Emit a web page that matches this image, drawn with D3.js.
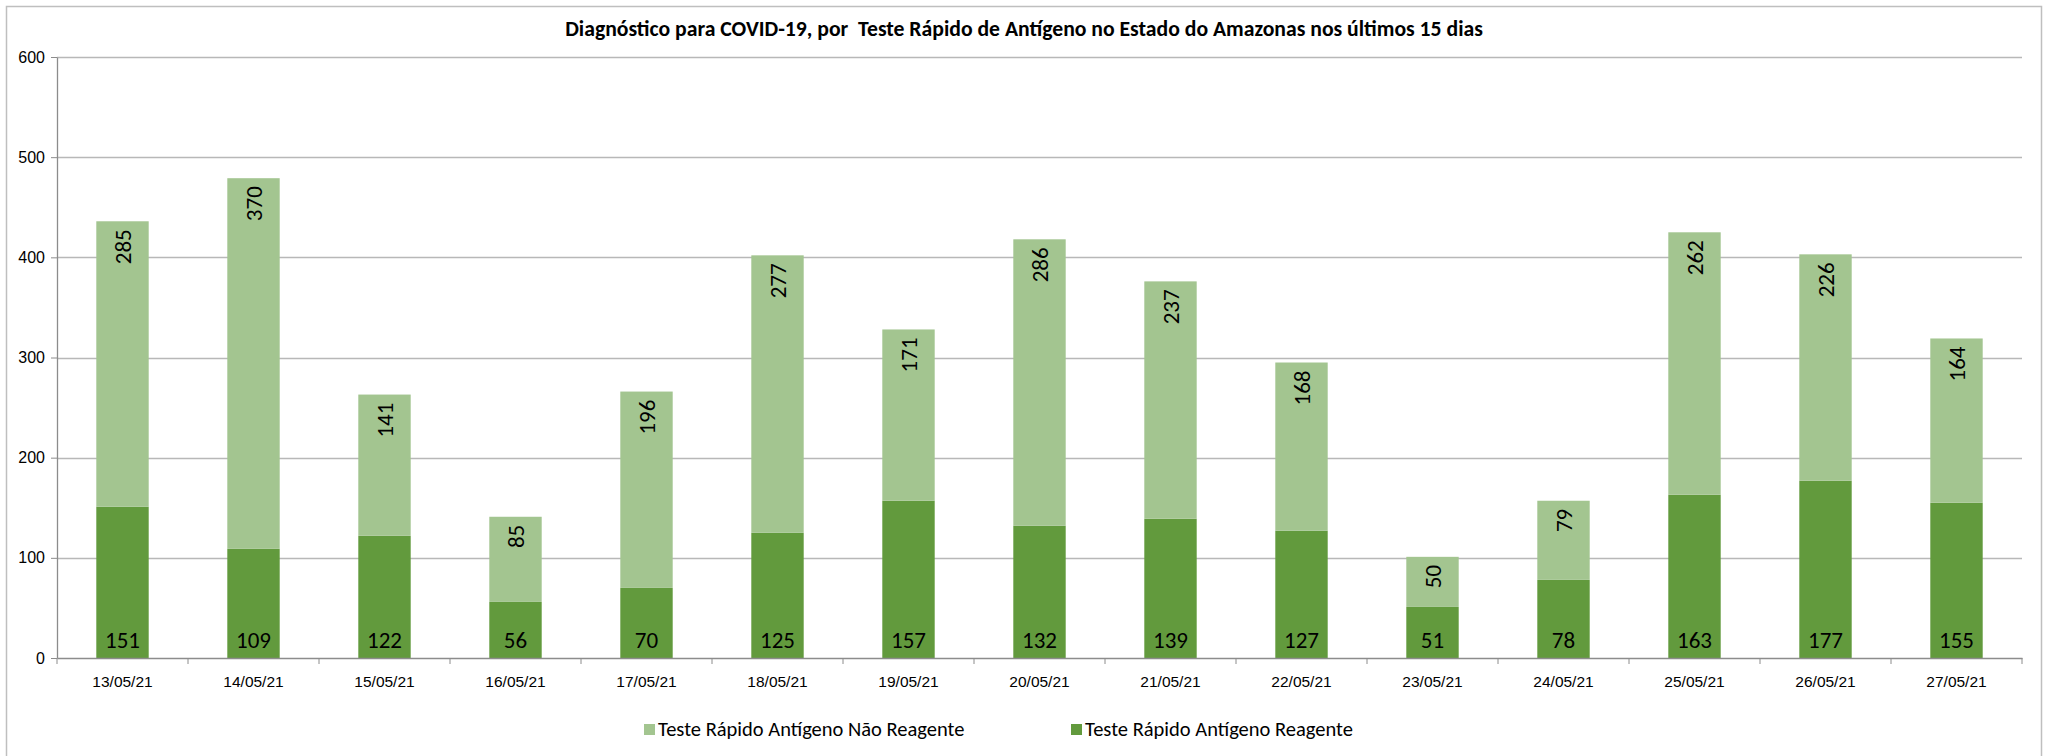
<!DOCTYPE html>
<html>
<head>
<meta charset="utf-8">
<script src="https://cdn.jsdelivr.net/npm/d3@7"></script>
<style>
  body { margin: 0; background: #fff; }
  svg { display: block; font-family: Carlito, Calibri, Lato, sans-serif; }
</style>
</head>
<body>
<div id="chart"></div>
<script>
// data
var dates = ["13/05/21","14/05/21","15/05/21","16/05/21","17/05/21","18/05/21","19/05/21","20/05/21",
             "21/05/21","22/05/21","23/05/21","24/05/21","25/05/21","26/05/21","27/05/21"]
var reagente = [151,109,122,56,70,125,157,132,139,127,51,78,163,177,155]
var naoReagente = [285,370,141,85,196,277,171,286,237,168,50,79,262,226,164]
var yTicks = [0,100,200,300,400,500,600]
var seriesNames = ["Teste Rápido Antígeno Não Reagente", "Teste Rápido Antígeno Reagente"]
var title = "Diagnóstico para COVID-19, por  Teste Rápido de Antígeno no Estado do Amazonas nos últimos 15 dias"

var w = 2048
var h = 756
var margin = {top: 57, right: 26, bottom: 98, left: 57}
var colorDark = "#629a3d"
var colorLight = "#a3c590"

var svg = d3.select("#chart").append("svg").attr("width", w).attr("height", h)

// outer chart border (bottom edge falls just outside the picture)
svg.append("rect")
    .attr("x", 6.5).attr("y", 6.5)
    .attr("width", w - 13).attr("height", h)
    .attr("fill", "none")
    .attr("stroke", "#bfbfbf")
    .attr("stroke-width", 1.5)

var x = d3.scaleBand().domain(dates).range([margin.left, w - margin.right]).paddingInner(0.6).paddingOuter(0.3)
var y = d3.scaleLinear().domain([0, 600]).range([h - margin.bottom, margin.top])

// title
svg.append("text")
    .attr("x", w / 2)
    .attr("y", 36)
    .attr("text-anchor", "middle")
    .attr("font-weight", "bold")
    .attr("font-size", "21.7px")
    .style("white-space", "pre")
    .text(title)

// gridlines
svg.append("g")
    .selectAll("line")
    .data(yTicks.filter(function(d){ return d > 0 }))
    .enter().append("line")
    .attr("x1", margin.left).attr("x2", w - margin.right)
    .attr("y1", function(d){ return Math.round(y(d)) + 0.5 })
    .attr("y2", function(d){ return Math.round(y(d)) + 0.5 })
    .attr("stroke", "#b8b8b8")
    .attr("stroke-width", 1.3)

// y axis
var yAxis = svg.append("g")
    .attr("transform", "translate(" + margin.left + ",0)")
    .call(d3.axisLeft(y).tickValues(yTicks).tickSize(6).tickSizeOuter(0).tickPadding(6))
yAxis.select(".domain").attr("stroke", "#8c8c8c").attr("stroke-width", 1.3)
yAxis.selectAll(".tick line").attr("stroke", "#8c8c8c")
yAxis.selectAll("text").attr("font-size", "16px").attr("fill", "#000").attr("font-family", null)

// bars: dark bottom, light stacked on top
var groups = svg.append("g").selectAll("g.day")
    .data(dates)
    .enter().append("g")
    .attr("class", "day")

groups.append("rect")
    .attr("x", function(d){ return x(d) })
    .attr("width", x.bandwidth())
    .attr("y", function(d, i){ return y(reagente[i]) })
    .attr("height", function(d, i){ return y(0) - y(reagente[i]) })
    .attr("fill", colorDark)

groups.append("rect")
    .attr("x", function(d){ return x(d) })
    .attr("width", x.bandwidth())
    .attr("y", function(d, i){ return y(reagente[i] + naoReagente[i]) })
    .attr("height", function(d, i){ return y(reagente[i]) - y(reagente[i] + naoReagente[i]) })
    .attr("fill", colorLight)

// x axis
var xAxis = svg.append("g")
    .attr("transform", "translate(0," + y(0) + ")")
    .call(d3.axisBottom(x).tickSize(0).tickPadding(18))
xAxis.select(".domain").attr("stroke", "#8c8c8c").attr("stroke-width", 1.3)
xAxis.selectAll("text").attr("font-size", "15.5px").attr("fill", "#000").attr("font-family", null)

// tick marks between categories
svg.append("g").selectAll("line")
    .data(d3.range(dates.length + 1))
    .enter().append("line")
    .attr("x1", function(i){ return margin.left + i * (w - margin.right - margin.left) / dates.length })
    .attr("x2", function(i){ return margin.left + i * (w - margin.right - margin.left) / dates.length })
    .attr("y1", y(0)).attr("y2", y(0) + 6)
    .attr("stroke", "#8c8c8c")

// labels for the dark part, at the base
groups.append("text")
    .attr("x", function(d){ return x(d) + x.bandwidth() / 2 })
    .attr("y", y(0) - 10)
    .attr("text-anchor", "middle")
    .attr("font-size", "23px")
    .text(function(d, i){ return reagente[i] })

// labels for the light part, rotated near the top
groups.append("text")
    .attr("transform", function(d, i){
        return "translate(" + (x(d) + x.bandwidth() / 2) + "," + (y(reagente[i] + naoReagente[i]) + 8) + ") rotate(-90)"
    })
    .attr("text-anchor", "end")
    .attr("dy", "0.35em")
    .attr("font-size", "23px")
    .text(function(d, i){ return naoReagente[i] })

// legend
var legendX = [644, 1071]
var legendColors = [colorLight, colorDark]
var legend = svg.append("g").selectAll("g")
    .data(seriesNames)
    .enter().append("g")
    .attr("transform", function(d, i){ return "translate(" + legendX[i] + ",729)" })

legend.append("rect")
    .attr("x", 0).attr("y", -5)
    .attr("width", 11).attr("height", 11)
    .attr("fill", function(d, i){ return legendColors[i] })

legend.append("text")
    .attr("x", 14)
    .attr("dy", "0.35em")
    .attr("font-size", "20.5px")
    .text(function(d){ return d })
</script>
</body>
</html>
